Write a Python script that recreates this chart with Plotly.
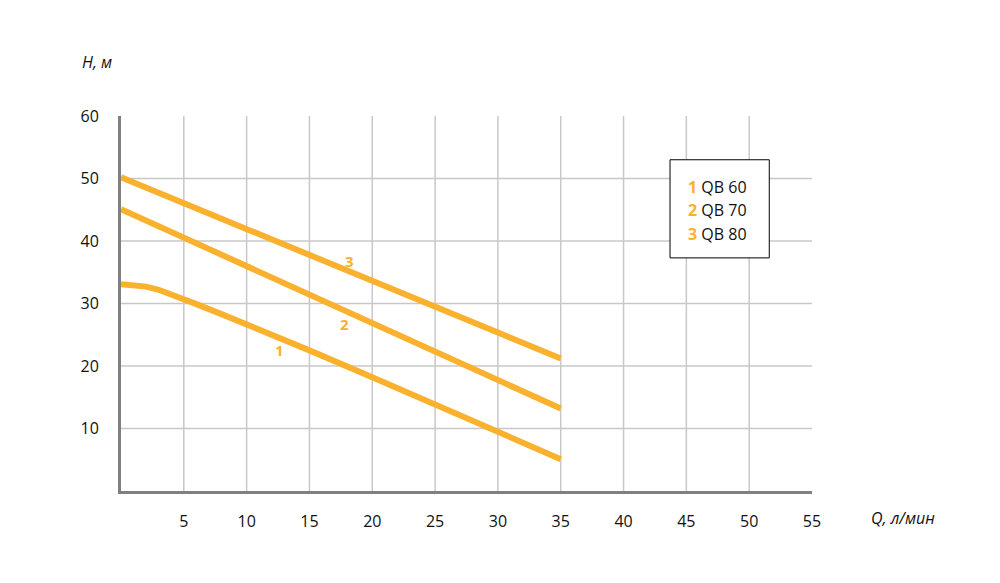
import plotly.graph_objects as go

# flow Q, l/min and head H, m for each pump curve
q_60 = [0, 1, 2, 3, 4, 5, 6, 8, 10, 15, 20, 25, 30, 35]
h_60 = [33.1, 33.0, 32.7, 32.2, 31.5, 30.7, 29.9, 28.3, 26.7, 22.5, 18.2, 13.9, 9.5, 5.1]
q_70 = [0, 35]
h_70 = [45.1, 13.2]
q_80 = [0, 35]
h_80 = [50.2, 21.2]

curve_names = ["QB 60", "QB 70", "QB 80"]
# where the curve numbers sit
label_q = [12.6, 17.8, 18.2]
label_h = [22.6, 26.7, 36.8]

x_ticks = [5, 10, 15, 20, 25, 30, 35, 40, 45, 50, 55]
y_ticks = [10, 20, 30, 40, 50, 60]

orange = "#F9B12E"
grid = "#c8c8c8"
font = "Open Sans"
txt = "#111111"

fig = go.Figure()

for q, h in [(q_60, h_60), (q_70, h_70), (q_80, h_80)]:
    fig.add_trace(go.Scatter(x=q, y=h, mode="lines",
                             line=dict(color=orange, width=6),
                             showlegend=False, hoverinfo="skip"))

# curve numbers
for i in range(3):
    fig.add_annotation(x=label_q[i], y=label_h[i], text=f"<b>{i + 1}</b>", showarrow=False,
                       font=dict(color=orange, size=15, family=font))

# grid lines (no line at the top/right edge)
shapes = []
for xv in x_ticks[:-1]:
    shapes.append(dict(type="line", x0=xv, x1=xv, y0=0, y1=60.3, xref="x", yref="y",
                       line=dict(color=grid, width=1.5), layer="below"))
for yv in y_ticks[:-1]:
    shapes.append(dict(type="line", x0=0, x1=55.1, y0=yv, y1=yv, xref="x", yref="y",
                       line=dict(color=grid, width=1.5), layer="below"))

# legend box
shapes.append(dict(type="rect", x0=43.7, x1=51.6, y0=37.3, y1=53.0, xref="x", yref="y",
                   line=dict(color="black", width=1), fillcolor="white"))
fig.update_layout(shapes=shapes)

leg_y = [48.7, 44.9, 41.2]
for i, name in enumerate(curve_names):
    fig.add_annotation(x=45.0, y=leg_y[i], xanchor="left", showarrow=False,
                       text=f"<span style='color:{orange}'><b>{i + 1}</b></span> {name}",
                       font=dict(color=txt, size=16, family=font))

# axis titles
fig.add_annotation(xref="paper", yref="paper", x=-0.035, y=1.144, showarrow=False,
                   xanchor="center", yanchor="middle",
                   text="<i>H, м</i>", font=dict(size=16, family=font, color=txt))
fig.add_annotation(xref="paper", yref="paper", x=1.132, y=-0.072, showarrow=False,
                   xanchor="center", yanchor="middle",
                   text="<i>Q, л/мин</i>", font=dict(size=16, family=font, color=txt))

fig.update_xaxes(range=[0, 55], tickvals=x_ticks, showgrid=False, zeroline=False,
                 showline=True, linecolor="#808080", linewidth=3,
                 ticks="", ticklabelstandoff=14,
                 tickfont=dict(size=16, family=font, color=txt))
fig.update_yaxes(range=[0, 60], tickvals=y_ticks, showgrid=False, zeroline=False,
                 showline=True, linecolor="#808080", linewidth=3,
                 ticks="", ticklabelstandoff=16,
                 tickfont=dict(size=16, family=font, color=txt))

fig.update_layout(width=992, height=575, plot_bgcolor="white", paper_bgcolor="white",
                  margin=dict(l=113, r=188, t=108, b=92), showlegend=False)

fig.write_html("out.html")
